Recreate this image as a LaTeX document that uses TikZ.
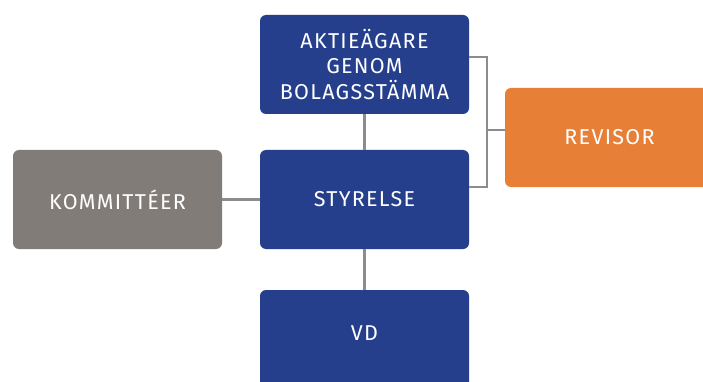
\documentclass[tikz,border=0pt]{standalone}
\usepackage{fontspec}
\setmainfont[LetterSpace=6]{Fira Sans}
\definecolor{boxblue}{HTML}{253F8D}
\definecolor{boxgray}{HTML}{817C78}
\definecolor{boxorange}{HTML}{E87F36}
\definecolor{linegray}{HTML}{8C8C8C}
\begin{document}
\begin{tikzpicture}[x=1pt,y=-1pt,
  lbl/.style={text=white, align=center, font=\fontsize{21.5}{25.5}\selectfont},
  box/.style={lbl, rounded corners=6pt, minimum width=209pt, minimum height=99pt, inner sep=0pt},
  conn/.style={draw=linegray, line width=2.5pt}]
\clip (0,0) rectangle (703,382);
\fill[white] (0,0) rectangle (703,382);
\coordinate (b1) at (487,57);
\coordinate (b2) at (487,187);
\coordinate (bm) at (487,130);
\node[box, fill=boxblue] (top) at (364.5,64.5) {AKTIEÄGARE\\GENOM\\BOLAGSSTÄMMA};
\node[box, fill=boxblue] (sty) at (364.5,199.5) {STYRELSE};
\node[box, fill=boxblue] (vd) at (364.5,339.5) {};
\node[lbl, inner sep=0pt] (vdt) at (364.5,333) {VD};
\node[box, fill=boxgray] (kom) at (117.5,199.5) {KOMMITTÉER};
\node[box, fill=boxorange] (rev) at (609.5,137.5) {REVISOR};
\draw[conn] (top.south) -- (sty.north);
\draw[conn] (sty.south) -- (vd.north);
\draw[conn] (kom.east) -- (sty.west);
\draw[conn] (top.east |- b1) -- (b1) -- (b2) -- (sty.east |- b2);
\draw[conn] (bm) -- (rev.west |- bm);
\end{tikzpicture}
\end{document}
